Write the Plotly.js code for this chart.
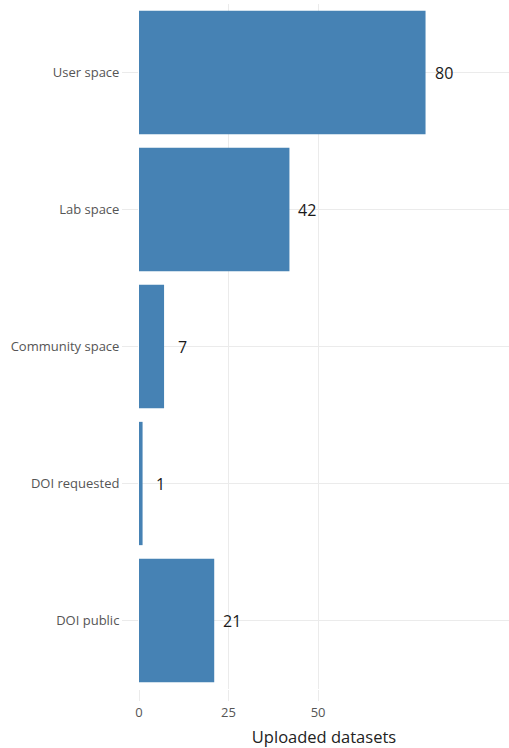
<!DOCTYPE html>
<html>
<head>
<meta charset="utf-8">
<script src="https://cdn.plot.ly/plotly-3.0.1.min.js"></script>
<style>
  html, body { margin: 0; padding: 0; background: #fff; }
  #chart { width: 509px; height: 748px; }
</style>
</head>
<body>
<div id="chart"></div>
<script>
// Storage location of uploaded datasets
const categories = ["User space", "Lab space", "Community space", "DOI requested", "DOI public"];
const datasets = [80, 42, 7, 1, 21];
const xTicks = [0, 25, 50];

const gridColor = "#ebebeb";

const trace = {
  type: "bar",
  orientation: "h",
  y: categories,
  x: datasets,
  marker: { color: "#4682b4" },
  hoverinfo: "x+y"
};

// Value labels sit a fixed distance beyond the end of each bar
const valueLabels = categories.map((c, i) => ({
  x: datasets[i],
  y: c,
  xref: "x",
  yref: "y",
  text: String(datasets[i]),
  showarrow: false,
  xanchor: "center",
  yanchor: "middle",
  xshift: 18,
  font: { family: "Open Sans, sans-serif", size: 16, color: "#1a1a1a" }
}));

const layout = {
  width: 509,
  height: 748,
  margin: { l: 139, r: 0, t: 4, b: 59, pad: 0 },
  paper_bgcolor: "#ffffff",
  plot_bgcolor: "#ffffff",
  bargap: 0.1,
  showlegend: false,
  font: { family: "Open Sans, sans-serif", color: "#555555" },
  annotations: valueLabels,
  xaxis: {
    range: [0, 103.3],
    tickvals: xTicks,
    ticktext: xTicks.map(String),
    ticks: "outside",
    ticklen: 11,
    tickcolor: gridColor,
    tickfont: { size: 13, color: "#555555" },
    showgrid: true,
    gridcolor: gridColor,
    zeroline: false,
    showline: false,
    title: { text: "Uploaded datasets", font: { size: 16.5, color: "#222222" }, standoff: 11 }
  },
  yaxis: {
    type: "category",
    categoryorder: "array",
    categoryarray: categories,
    autorange: "reversed",
    ticks: "outside",
    ticklen: 16,
    tickcolor: gridColor,
    tickfont: { size: 13, color: "#555555" },
    showgrid: true,
    gridcolor: gridColor,
    zeroline: false,
    showline: false
  }
};

Plotly.newPlot("chart", [trace], layout, { displayModeBar: false, staticPlot: true });
</script>
</body>
</html>
